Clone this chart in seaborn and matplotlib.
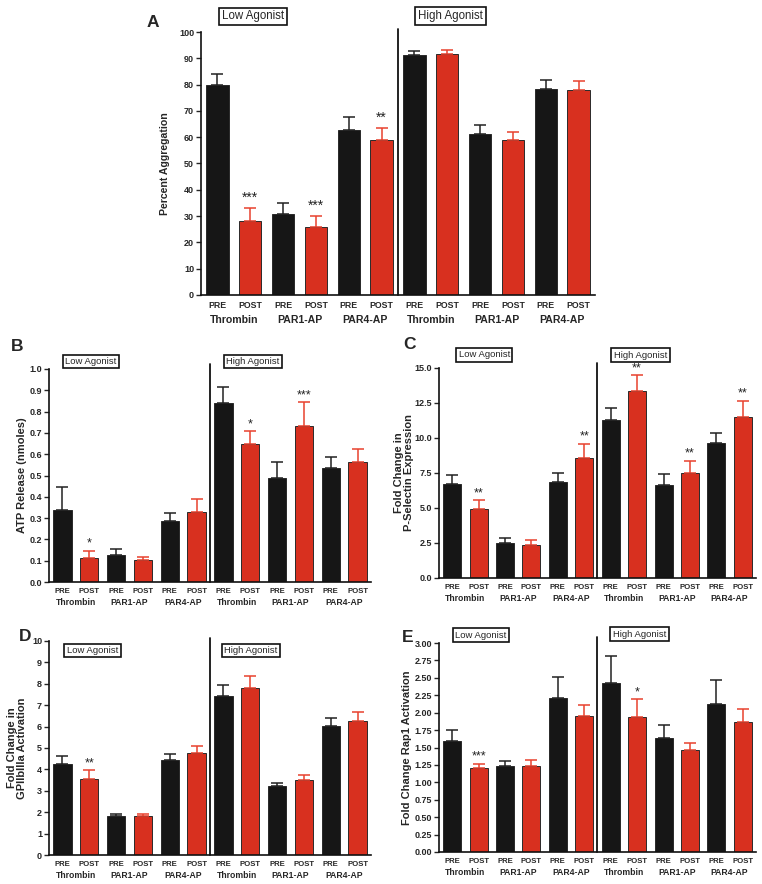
import numpy as np
import pandas as pd
import matplotlib
matplotlib.use('Agg')
import matplotlib.pyplot as plt
import seaborn as sns

sns.set_style('ticks')
plt.rcParams['font.family'] = ['Liberation Sans', 'DejaVu Sans']

agonists = ['Thrombin', 'PAR1-AP', 'PAR4-AP']
doses = ['Low', 'High']
conds = ['PRE', 'POST']

# A - percent aggregation
agg_mean = [79.7, 28.0, 30.8, 26.0, 62.9, 59.0, 91.4, 91.6, 61.4, 58.8, 78.3, 78.0]
agg_err = [4.2, 4.9, 4.1, 4.1, 4.9, 4.5, 1.2, 1.5, 3.1, 3.1, 3.4, 3.2]
agg_sig = {1: '***', 3: '***', 5: '**'}

# B - ATP release
atp_mean = [0.336, 0.113, 0.128, 0.102, 0.288, 0.329, 0.840, 0.649, 0.490, 0.732, 0.535, 0.562]
atp_err = [0.110, 0.033, 0.027, 0.017, 0.034, 0.062, 0.074, 0.058, 0.072, 0.111, 0.050, 0.062]
atp_sig = {1: '*', 7: '*', 9: '***'}

# C - P-selectin
psel_mean = [6.71, 4.93, 2.48, 2.38, 6.86, 8.57, 11.29, 13.36, 6.62, 7.52, 9.62, 11.50]
psel_err = [0.65, 0.62, 0.35, 0.36, 0.62, 1.03, 0.88, 1.12, 0.78, 0.84, 0.76, 1.17]
psel_sig = {1: '**', 5: '**', 7: '**', 9: '**', 11: '**'}

# D - GPIIbIIIa activation
gp_mean = [4.24, 3.55, 1.84, 1.82, 4.46, 4.77, 7.43, 7.80, 3.21, 3.50, 6.04, 6.28]
gp_err = [0.40, 0.40, 0.09, 0.11, 0.28, 0.31, 0.53, 0.56, 0.15, 0.24, 0.38, 0.42]
gp_sig = {1: '**'}

# E - Rap1 activation
rap_mean = [1.60, 1.21, 1.24, 1.23, 2.21, 1.95, 2.43, 1.94, 1.63, 1.47, 2.13, 1.86]
rap_err = [0.15, 0.06, 0.07, 0.09, 0.30, 0.16, 0.38, 0.25, 0.20, 0.10, 0.34, 0.20]
rap_sig = {1: '***', 7: '*'}

bar_ids = [d + ' ' + a + ' ' + c for d in doses for a in agonists for c in conds]
cond_col = [c for d in doses for a in agonists for c in conds]
pal = {'PRE': '#161616', 'POST': '#d8301f'}
err_col = {'PRE': '#222222', 'POST': '#e8412e'}


def panel(ax, mean, err, sig, ymax, step, fmt, ylabel, big=False,
          ylab_x=-0.09, low_pos=(1.1, 1.04), high_pos=(7.1, 1.04), div_top=1.02):
    df = pd.DataFrame({'bar': bar_ids, 'cond': cond_col, 'value': mean})
    sns.barplot(data=df, x='bar', y='value', hue='cond', order=bar_ids, hue_order=conds,
                palette=pal, saturation=1, dodge=False, width=0.68, edgecolor='#2a2a2a',
                linewidth=0.7, errorbar=None, legend=False, ax=ax)
    xs = np.arange(len(bar_ids))
    m = np.array(mean)
    e = np.array(err)
    for c in conds:
        idx = np.array([i for i in xs if cond_col[i] == c])
        ax.errorbar(idx, m[idx], yerr=[np.zeros(len(idx)), e[idx]], fmt='none',
                    ecolor=err_col[c], elinewidth=1.1, capsize=4.3, capthick=1.1, zorder=3)
    for i, s in sig.items():
        ax.annotate(s, xy=(i, m[i] + e[i]), xytext=(0, 2.5 if big else 0.8),
                    textcoords='offset points',
                    ha='center', va='bottom', fontsize=10 if big else 9, color='#222222')

    ax.set_ylim(0, ymax)
    ax.set_yticks(np.arange(0, ymax + step / 2, step))
    ax.set_yticklabels([fmt.format(v) for v in np.arange(0, ymax + step / 2, step)],
                       fontsize=6.5, fontweight='bold')
    ax.set_xlim(-0.5, len(bar_ids) - 0.5)
    ax.set_xticks(xs)
    ax.set_xticklabels(cond_col, fontsize=6.3 if big else 5.6, fontweight='bold')
    ax.tick_params(axis='x', length=0, pad=4)
    ax.tick_params(axis='y', length=3.5, width=1, pad=1.5, direction='out')
    ax.set_xlabel('')
    ax.set_ylabel(ylabel, fontsize=7.6 if big else 8, fontweight='bold', linespacing=1.0)
    ax.yaxis.set_label_coords(ylab_x, 0.5)
    for sp in ['top', 'right']:
        ax.spines[sp].set_visible(False)
    for sp in ['left', 'bottom']:
        ax.spines[sp].set_linewidth(1.2)
        ax.spines[sp].set_color('#111111')

    trans = ax.get_xaxis_transform()
    for k, a in enumerate(agonists * 2):
        ax.annotate(a, xy=(2 * k + 0.5, 0), xycoords=trans, xytext=(0, -18 if big else -14.5),
                    textcoords='offset points', ha='center', va='center',
                    fontsize=7.6 if big else 6.2, fontweight='bold')

    ax.plot([5.5, 5.5], [0, div_top], transform=trans, color='#111111', lw=1.3, clip_on=False)

    box = dict(boxstyle='square,pad=0.25', fc='white', ec='#111111', lw=1.2)
    ax.text(low_pos[0], low_pos[1], 'Low Agonist', transform=trans, ha='center', va='center',
            fontsize=8.3 if big else 6.8, bbox=box)
    ax.text(high_pos[0], high_pos[1], 'High Agonist', transform=trans, ha='center', va='center',
            fontsize=8.3 if big else 6.8, bbox=box)


fig = plt.figure(figsize=(7.62, 8.84), dpi=100)
axA = fig.add_axes([0.2638, 0.6663, 0.5171, 0.2975])
axB = fig.add_axes([0.0643, 0.3416, 0.4226, 0.2410])
axC = fig.add_axes([0.5761, 0.3462, 0.4160, 0.2376])
axD = fig.add_axes([0.0643, 0.0328, 0.4226, 0.2421])
axE = fig.add_axes([0.5761, 0.0362, 0.4160, 0.2364])

panel(axA, agg_mean, agg_err, agg_sig, 100, 10, '{:.0f}', 'Percent Aggregation', big=True,
      ylab_x=-0.078, low_pos=(1.08, 1.059), high_pos=(7.1, 1.06), div_top=1.01)
panel(axB, atp_mean, atp_err, atp_sig, 1.0, 0.1, '{:.1f}', 'ATP Release (nmoles)',
      ylab_x=-0.068, low_pos=(1.07, 1.035), high_pos=(7.1, 1.035), div_top=1.023)
panel(axC, psel_mean, psel_err, psel_sig, 15.0, 2.5, '{:.1f}',
      'Fold Change in\nP-Selectin Expression',
      ylab_x=-0.079, low_pos=(1.22, 1.062), high_pos=(7.13, 1.06), div_top=1.024)
panel(axD, gp_mean, gp_err, gp_sig, 10, 1, '{:.0f}', 'Fold Change in\nGPIIbIIIa Activation',
      ylab_x=-0.067, low_pos=(1.12, 0.956), high_pos=(7.03, 0.956), div_top=1.014)
panel(axE, rap_mean, rap_err, rap_sig, 3.0, 0.25, '{:.2f}', 'Fold Change Rap1 Activation',
      ylab_x=-0.085, low_pos=(1.09, 1.038), high_pos=(7.09, 1.043), div_top=1.03)

for lab, x, y in [('A', 0.2008, 0.975), ('B', 0.022, 0.6075), ('C', 0.538, 0.61),
                  ('D', 0.033, 0.2805), ('E', 0.535, 0.2794)]:
    fig.text(x, y, lab, fontsize=12.5, fontweight='bold', ha='center', va='center')

fig.savefig('out.png', dpi=100, facecolor='white')
